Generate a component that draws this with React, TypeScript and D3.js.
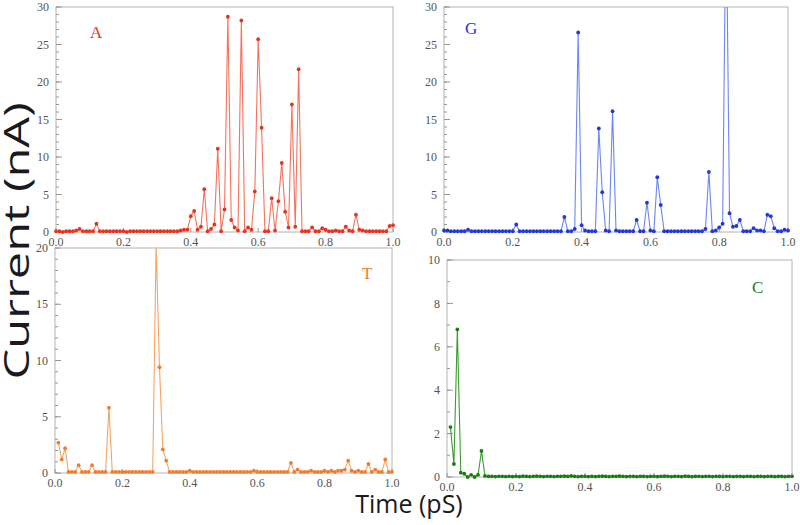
import React from 'react';
import * as d3 from 'd3';

// sample times 0.00 .. 1.00 pS, one sample every 0.01
const TIME_STEPS = 100;

const valuesA = [
  0.1, 0.1, 0.0, 0.1, 0.1, 0.1, 0.2, 0.4, 0.1, 0.1,
  0.1, 0.1, 1.1, 0.1, 0.1, 0.1, 0.1, 0.1, 0.1, 0.1,
  0.1, 0.0, 0.1, 0.1, 0.1, 0.1, 0.1, 0.1, 0.1, 0.1,
  0.1, 0.1, 0.1, 0.1, 0.1, 0.1, 0.1, 0.2, 0.3, 0.3,
  2.1, 2.8, 0.3, 0.7, 5.7, 0.1, 0.4, 1.0, 11.1, 0.1,
  3.0, 28.7, 1.6, 0.6, 0.2, 28.2, 0.1, 0.6, 0.3, 5.4,
  25.7, 13.9, 0.1, 0.1, 4.5, 0.2, 4.1, 9.2, 2.7, 0.6,
  17.0, 0.7, 21.7, 0.1, 0.1, 0.1, 0.6, 0.1, 0.1, 0.5,
  0.3, 0.1, 0.1, 0.2, 0.1, 0.1, 0.7, 0.2, 0.1, 2.3,
  0.3, 0.2, 0.1, 0.1, 0.1, 0.1, 0.1, 0.1, 0.1, 0.8,
  0.9,
];

const valuesG = [
  0.2, 0.2, 0.1, 0.1, 0.1, 0.1, 0.1, 0.3, 0.1, 0.1,
  0.1, 0.1, 0.1, 0.1, 0.1, 0.1, 0.1, 0.1, 0.1, 0.1,
  0.1, 1.0, 0.1, 0.1, 0.1, 0.1, 0.1, 0.1, 0.1, 0.1,
  0.1, 0.1, 0.1, 0.1, 0.1, 2.0, 0.1, 0.1, 0.4, 26.6,
  0.9, 0.2, 0.1, 0.1, 0.1, 13.8, 5.3, 0.2, 0.1, 16.1,
  0.2, 0.1, 0.1, 0.1, 0.1, 0.1, 1.6, 0.1, 0.1, 3.9,
  0.2, 0.1, 7.3, 3.6, 0.1, 0.1, 0.1, 0.1, 0.1, 0.1,
  0.1, 0.1, 0.1, 0.1, 0.1, 0.1, 0.4, 8.0, 0.1, 0.2,
  0.6, 1.1, 45.0, 2.5, 0.7, 0.8, 1.6, 0.1, 0.1, 0.1,
  0.5, 0.2, 0.2, 0.1, 2.3, 2.1, 0.5, 0.1, 0.1, 0.3,
  0.2,
];

const valuesT = [
  null, 2.7, 1.2, 2.2, 0.1, 0.1, 0.1, 0.7, 0.1, 0.1,
  0.1, 0.7, 0.1, 0.1, 0.1, 0.1, 5.8, 0.1, 0.1, 0.1,
  0.1, 0.1, 0.1, 0.1, 0.1, 0.1, 0.1, 0.1, 0.1, 0.1,
  20.4, 9.4, 2.1, 1.1, 0.1, 0.1, 0.1, 0.1, 0.1, 0.1,
  0.2, 0.1, 0.1, 0.1, 0.1, 0.1, 0.1, 0.1, 0.1, 0.1,
  0.1, 0.1, 0.1, 0.1, 0.1, 0.1, 0.1, 0.1, 0.1, 0.2,
  0.1, 0.1, 0.1, 0.1, 0.1, 0.1, 0.1, 0.1, 0.1, 0.1,
  0.9, 0.1, 0.3, 0.1, 0.1, 0.1, 0.2, 0.1, 0.1, 0.1,
  0.2, 0.1, 0.2, 0.1, 0.2, 0.2, 0.3, 1.1, 0.2, 0.1,
  0.2, 0.1, 0.1, 0.8, 0.1, 0.3, 0.1, 0.1, 1.2, 0.1,
  0.1,
];

const valuesC = [
  null, 2.3, 0.6, 6.8, 0.2, 0.15, 0.0, 0.1, 0.0, 0.1,
  1.2, 0.05, 0.03, 0.03, 0.02, 0.03, 0.03, 0.02, 0.03, 0.02,
  0.03, 0.02, 0.04, 0.03, 0.02, 0.03, 0.04, 0.03, 0.02, 0.03,
  0.03, 0.02, 0.03, 0.03, 0.04, 0.03, 0.05, 0.03, 0.02, 0.03,
  0.03, 0.02, 0.03, 0.02, 0.03, 0.04, 0.03, 0.02, 0.03, 0.03,
  0.04, 0.03, 0.02, 0.03, 0.03, 0.02, 0.03, 0.03, 0.02, 0.03,
  0.03, 0.02, 0.03, 0.04, 0.03, 0.02, 0.03, 0.03, 0.02, 0.04,
  0.03, 0.02, 0.03, 0.03, 0.02, 0.03, 0.03, 0.02, 0.03, 0.03,
  0.02, 0.03, 0.03, 0.02, 0.03, 0.03, 0.02, 0.03, 0.03, 0.02,
  0.03, 0.03, 0.02, 0.03, 0.03, 0.02, 0.03, 0.03, 0.02, 0.03,
  0.03,
];

const panels = [
  { id: 'A', values: valuesA, yMax: 30, majorCount: 6, minorCount: 30,
    left: 56, right: 393, top: 7, bottom: 232,
    line: '#f4735e', dot: '#e8331f', letterX: 90, letterY: 38 },
  { id: 'G', values: valuesG, yMax: 30, majorCount: 6, minorCount: 30,
    left: 444, right: 788, top: 7, bottom: 232,
    line: '#6c86f3', dot: '#2337da', letterX: 465, letterY: 34 },
  { id: 'T', values: valuesT, yMax: 20, majorCount: 4, minorCount: 20,
    left: 55, right: 392, top: 248, bottom: 473,
    line: '#f7a463', dot: '#f27c2e', letterX: 362, letterY: 279 },
  { id: 'C', values: valuesC, yMax: 10, majorCount: 5, minorCount: 10,
    left: 447, right: 792, top: 260, bottom: 477,
    line: '#3c9a30', dot: '#1e7a14', letterX: 752, letterY: 293 },
];

const tickFont = '"Liberation Serif", "Times New Roman", serif';

const Panel = ({ p }) => {
  const x = d3.scaleLinear().domain([0, 1]).range([p.left, p.right]);
  const y = d3.scaleLinear().domain([0, p.yMax]).range([p.bottom, p.top]);
  const pts = p.values
    .map((v, i) => ({ t: i / TIME_STEPS, v }))
    .filter((d) => d.v !== null);
  const line = d3.line().x((d) => x(d.t)).y((d) => y(d.v));
  const clipId = 'clip-' + p.id;
  const fmtX = d3.format('.1f');

  return (
    <g>
      <defs>
        <clipPath id={clipId}>
          <rect x={p.left - 3} y={p.top} width={p.right - p.left + 6} height={p.bottom - p.top + 4} />
        </clipPath>
      </defs>
      <rect x={p.left} y={p.top} width={p.right - p.left} height={p.bottom - p.top}
        fill="#fff" stroke="#b4b4b4" strokeWidth={1} />
      {y.ticks(p.minorCount).map((t) => (
        <line key={'ym' + t} x1={p.left} x2={p.left + 3} y1={y(t)} y2={y(t)} stroke="#999" />
      ))}
      {y.ticks(p.majorCount).map((t) => (
        <g key={'y' + t}>
          <line x1={p.left} x2={p.left + 6} y1={y(t)} y2={y(t)} stroke="#999" />
          <text x={p.left - 7} y={y(t)} dy="0.35em" textAnchor="end"
            fontFamily={tickFont} fontSize={12} fill="#555">{t}</text>
        </g>
      ))}
      {x.ticks(5).map((t) => (
        <g key={'x' + t}>
          <line x1={x(t)} x2={x(t)} y1={p.bottom} y2={p.bottom - 4} stroke="#999" />
          <text x={x(t)} y={p.bottom + 14} textAnchor="middle"
            fontFamily={tickFont} fontSize={12} fill="#555">{fmtX(t)}</text>
        </g>
      ))}
      <g clipPath={`url(#${clipId})`}>
        <path d={line(pts)} fill="none" stroke={p.line} strokeWidth={1.1} />
        {pts.map((d, i) => (
          <circle key={i} cx={x(d.t)} cy={y(d.v)} r={1.9} fill={p.dot} />
        ))}
      </g>
      <text x={p.letterX} y={p.letterY} fontFamily={tickFont} fontSize={17} fill={p.dot}>{p.id}</text>
    </g>
  );
};

const App = () => (
  <svg width={800} height={525} style={{ position: 'absolute', left: 0, top: 0, background: '#fff' }}>
    <rect width={800} height={525} fill="#fff" />
    {panels.map((p) => <Panel key={p.id} p={p} />)}
    <text transform="translate(29,241) rotate(-90)" textAnchor="middle"
      fontFamily='"Open Sans", sans-serif' fontSize={35} fill="#1a1a1a"
      textLength={277} lengthAdjust="spacingAndGlyphs">Current (nA)</text>
    <text x={409} y={513} textAnchor="middle"
      fontFamily='"Open Sans", sans-serif' fontSize={25} fill="#1a1a1a">Time (pS)</text>
  </svg>
);

export default App;
